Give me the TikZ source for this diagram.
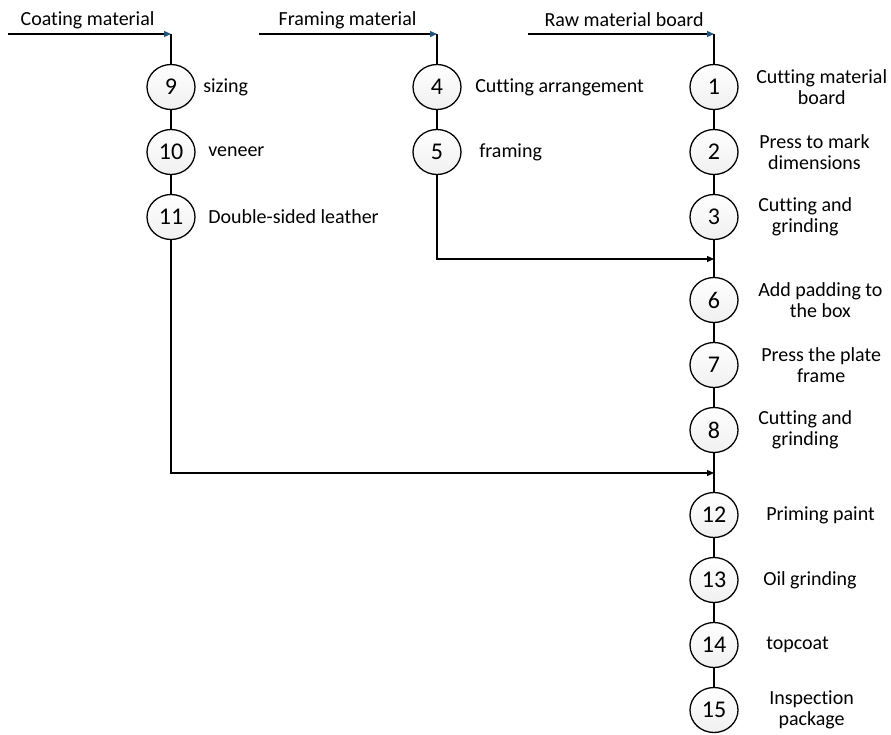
\documentclass[tikz,border=0pt]{standalone}
\usepackage{fontspec}
\setmainfont{Carlito}[Ligatures=NoCommon]
\usepackage{tikz}
\usetikzlibrary{arrows.meta}
\usetikzlibrary{positioning}
\usetikzlibrary{shapes.geometric}

\definecolor{tipblue}{RGB}{30,85,125}

\begin{document}
\begin{tikzpicture}[x=1pt,y=1pt,line width=1.2pt,node distance=65pt,on grid,
  main node/.style={ellipse,draw,line width=1.3pt,minimum width=48pt,minimum height=45pt,
    inner sep=0pt,top color=white,bottom color=black!6,font=\fontsize{24}{24}\selectfont},
  note node/.style={inner sep=0pt,align=center,font=\fontsize{20}{20.5}\selectfont},
  flow/.style={-{Triangle[length=7pt,width=6pt]}},
  in flow/.style={-{Triangle[length=7pt,width=6pt,color=tipblue]}}]

  \useasboundingbox (0,0) rectangle (891,-734);

  % raw material board line
  \node[main node] (1) at (714,-87) {1};
  \node[main node] (2) [below=of 1] {2};
  \node[main node] (3) [below=of 2] {3};
  \node[main node] (6) [below=83pt of 3] {6};
  \node[main node] (7) [below=of 6] {7};
  \node[main node] (8) [below=of 7] {8};
  \node[main node] (12) [below=85pt of 8] {12};
  \node[main node] (13) [below=of 12] {13};
  \node[main node] (14) [below=of 13] {14};
  \node[main node] (15) [below=of 14] {15};

  % framing material line
  \node[main node] (4) [left=277pt of 1] {4};
  \node[main node] (5) [below=of 4] {5};

  % coating material line
  \node[main node] (9) [left=266pt of 4] {9};
  \node[main node] (10) [below=of 9] {10};
  \node[main node] (11) [below=of 10] {11};

  \node[note node,anchor=west] (t1) at ([xshift=17pt]1.east) {Cutting material\\board};
  \node[note node,anchor=west] (t2) at ([xshift=20pt]2.east) {Press to mark\\dimensions};
  \node[note node,anchor=west] (t3) at ([xshift=19pt]3.east) {Cutting and\\grinding};
  \node[note node,anchor=west] (t6) at ([xshift=19pt]6.east) {Add padding to\\the box};
  \node[note node,anchor=west] (t7) at ([xshift=22pt]7.east) {Press the plate\\frame};
  \node[note node,anchor=west] (t8) at ([xshift=19pt]8.east) {Cutting and\\grinding};
  \node[note node,anchor=west] (t12) at ([xshift=27pt]12.east) {Priming paint};
  \node[note node,anchor=west] (t13) at ([xshift=24pt]13.east) {Oil grinding};
  \node[note node,anchor=west] (t14) at ([xshift=27pt]14.east) {topcoat};
  \node[note node,anchor=west] (t15) at ([xshift=30pt]15.east) {Inspection\\package};
  \node[note node,anchor=west] (t4) at ([xshift=13pt]4.east) {Cutting arrangement};
  \node[note node,anchor=west] (t5) at ([xshift=17pt]5.east) {framing};
  \node[note node,anchor=west] (t9) at ([xshift=7pt]9.east) {sizing};
  \node[note node,anchor=west] (t10) at ([xshift=12pt]10.east) {veneer};
  \node[note node,anchor=west] (t11) at ([xshift=12pt]11.east) {Double-sided leather};

  % inputs
  \coordinate (in9) at (8,-34);
  \coordinate (in4) at (259,-34);
  \coordinate (in1) at (528,-34);
  \coordinate (top9) at (9 |- in9);
  \coordinate (top4) at (4 |- in4);
  \coordinate (top1) at (1 |- in1);
  \node[note node,anchor=west] (m9) at (20,-20) {Coating material};
  \node[note node,anchor=west] (m4) at (278,-20) {Framing material};
  \node[note node,anchor=west] (m1) at (544,-20) {Raw material board};

  \draw[in flow] (in9) -- (top9);
  \draw[in flow] (in4) -- (top4);
  \draw[in flow] (in1) -- (top1);

  % joins
  \coordinate (j6) at (714,-259);
  \coordinate (j12) at (714,-473);
  \draw[flow] (5) |- (j6);
  \draw[flow] (11) |- (j12);

  \path
    (top9) edge (9) (9) edge (10) (10) edge (11)
    (top4) edge (4) (4) edge (5)
    (top1) edge (1) (1) edge (2) (2) edge (3) (3) edge (6)
    (6) edge (7) (7) edge (8) (8) edge (12)
    (12) edge (13) (13) edge (14) (14) edge (15);
\end{tikzpicture}
\end{document}
